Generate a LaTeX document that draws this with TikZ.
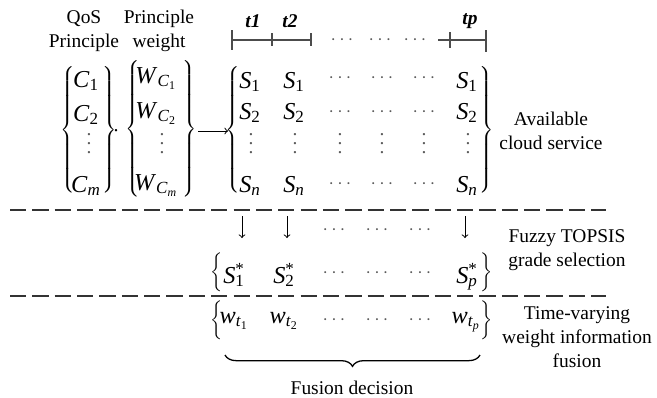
\documentclass[tikz,border=0pt]{standalone}
\usepackage{fontspec}
\setmainfont{Liberation Serif}
\usetikzlibrary{decorations.pathreplacing}

% tall curly delimiters
\newcommand{\openbr}[1]{$\left\{\vcenter{\hbox{\rule{0pt}{#1}}}\right.$}
\newcommand{\closebr}[1]{$\left.\vcenter{\hbox{\rule{0pt}{#1}}}\right\}$}
% italic symbols with subscripts
\newcommand{\sym}[2]{\textit{#1}\textsubscript{#2}}
\newcommand{\symstar}[2]{\textit{#1}\rlap{\textsuperscript{*}}\textsubscript{#2}}
\newcommand{\vdts}{\vbox{\baselineskip5.5pt\lineskiplimit0pt\hbox{.}\hbox{.}\hbox{.}}}

\tikzset{
  lbl/.style={align=center, inner sep=0pt, font=\fontsize{12}{15}\selectfont},
  cell/.style={inner sep=0pt, anchor=base, font=\fontsize{15}{18}\selectfont},
  dotcell/.style={inner sep=0pt, text=black!65, font=\fontsize{12}{14}\selectfont},
  vdotcell/.style={inner sep=0pt, text=black!65, font=\fontsize{12}{14}\selectfont},
  delim/.style={inner sep=0pt, font=\fontsize{15}{18}\selectfont},
  timeline/.style={black!70, line width=0.8pt},
  sepline/.style={black!80, line width=1.3pt, dash pattern=on 10pt off 3.8pt},
  conn/.style={->, line width=0.6pt},
  ubrace/.style={decorate, decoration={brace, mirror, amplitude=7pt}, line width=0.8pt}
}

\begin{document}
\begin{tikzpicture}[x=0.0217cm, y=-0.0217cm]
  \useasboundingbox (0,0) rectangle (657,398);

  % Headers
  \node[lbl] (qos) at (84,31) {QoS\\Principle};
  \node[lbl] (pweight) at (159,31) {Principle\\weight};
  \node[lbl] (t1) at (253,21) {\textbf{\textit{t1}}};
  \node[lbl] (t2) at (290,21) {\textbf{\textit{t2}}};
  \node[lbl] (tp) at (470,21) {\textbf{\textit{tp}}};

  % Time axis
  \draw[timeline] (232,40) -- (311,40);
  \draw[timeline] (232,30) -- (232,50);
  \draw[timeline] (272,33) -- (272,46);
  \draw[timeline] (311,33) -- (311,46);
  \draw[timeline] (438,40) -- (486,40);
  \draw[timeline] (450,32) -- (450,48);
  \draw[timeline] (486,30) -- (486,52);
  \foreach \x [count=\i] in {342,380,415}
    \node[dotcell] (td\i) at (\x,40) {$\cdots$};

  % Principle vector
  \node[delim] (cl) at (69,130) {\openbr{80pt}};
  \node[delim] (cr) at (109,130) {\closebr{80pt}};
  \node[cell] (c1) at (86,87) {\sym{C}{1}};
  \node[cell] (c2) at (86,121) {\sym{C}{2}};
  \node[vdotcell] (cv) at (89,144) {\vdts};
  \node[cell] (cm) at (86,192) {\sym{C}{\textit{m}}};
  \node[delim] (mul) at (116,131) {$\cdot$};

  % Weight vector
  \node[delim] (wl) at (134,129) {\openbr{85pt}};
  \node[delim] (wr) at (189,129) {\closebr{85pt}};
  \node[cell] (wc1) at (156,83) {\sym{W}{\sym{C}{1}}};
  \node[cell] (wc2) at (156,118) {\sym{W}{\sym{C}{2}}};
  \node[vdotcell] (wv) at (162,144) {\vdts};
  \node[cell] (wcm) at (156,190) {\sym{W}{\sym{C}{\textit{m}}}};

  % Service matrix
  \node[delim] (sl) at (234,130) {\openbr{80pt}};
  \node[delim] (sr) at (486,130) {\closebr{80pt}};
  \foreach \x [count=\j] in {250,294,467} {
    \node[cell] (sa\j) at (\x,88) {\sym{S}{1}};
    \node[cell] (sb\j) at (\x,119) {\sym{S}{2}};
    \node[vdotcell] (sv\j) at (\x+1,144) {\vdts};
    \node[cell] (sn\j) at (\x,192) {\sym{S}{\textit{n}}};
  }
  \foreach \x [count=\j] in {340,382,424} {
    \node[dotcell] (da\j) at (\x,78) {$\cdots$};
    \node[dotcell] (db\j) at (\x,112) {$\cdots$};
    \node[vdotcell] (dv\j) at (\x,144) {\vdts};
    \node[dotcell] (dn\j) at (\x,184) {$\cdots$};
  }
  \coordinate (arr1) at (198,131);
  \coordinate (arr2) at (228,131);
  \draw[conn] (arr1) -- (arr2);
  \node[lbl] (avail) at (551,131) {Available\\cloud service};

  % Fuzzy TOPSIS selection
  \draw[sepline] (10,210) -- (606,210);
  \coordinate (a1s) at (242,216); \coordinate (a1e) at (242,238);
  \coordinate (a2s) at (287,216); \coordinate (a2e) at (287,238);
  \coordinate (a3s) at (465,216); \coordinate (a3e) at (465,238);
  \draw[conn] (a1s) -- (a1e);
  \draw[conn] (a2s) -- (a2e);
  \draw[conn] (a3s) -- (a3e);
  \foreach \x [count=\i] in {334,377,420}
    \node[dotcell] (ad\i) at (\x,230) {$\cdots$};
  \node[delim] (ssl) at (218,272) {\openbr{20pt}};
  \node[delim] (ssr) at (486,272) {\closebr{20pt}};
  \node[cell] (ss1) at (234,283) {\symstar{S}{1}};
  \node[cell] (ss2) at (284,283) {\symstar{S}{2}};
  \node[cell] (ssp) at (467,283) {\symstar{S}{\textit{p}}};
  \foreach \x [count=\i] in {334,377,420}
    \node[dotcell] (sd\i) at (\x,273) {$\cdots$};
  \node[lbl] (fuzzy) at (567,250) {Fuzzy TOPSIS\\grade selection};

  % Time-varying weights
  \draw[sepline] (10,296) -- (606,296);
  \node[delim] (wwl) at (218,320) {\openbr{23pt}};
  \node[delim] (wwr) at (486,320) {\closebr{23pt}};
  \node[cell] (wt1) at (234,323) {\sym{w}{\sym{t}{1}}};
  \node[cell] (wt2) at (284,323) {\sym{w}{\sym{t}{2}}};
  \node[cell] (wtp) at (466,323) {\sym{w}{\sym{t}{\textit{p}}}};
  \foreach \x [count=\i] in {334,377,420}
    \node[dotcell] (wd\i) at (\x,320) {$\cdots$};
  \node[lbl] (tvw) at (577,337) {Time-varying\\weight information\\fusion};

  % Fusion decision
  \coordinate (ub1) at (225,355);
  \coordinate (ub2) at (480,355);
  \draw[ubrace] (ub1) -- (ub2);
  \node[lbl] (fdec) at (352,388) {Fusion decision};
\end{tikzpicture}
\end{document}
